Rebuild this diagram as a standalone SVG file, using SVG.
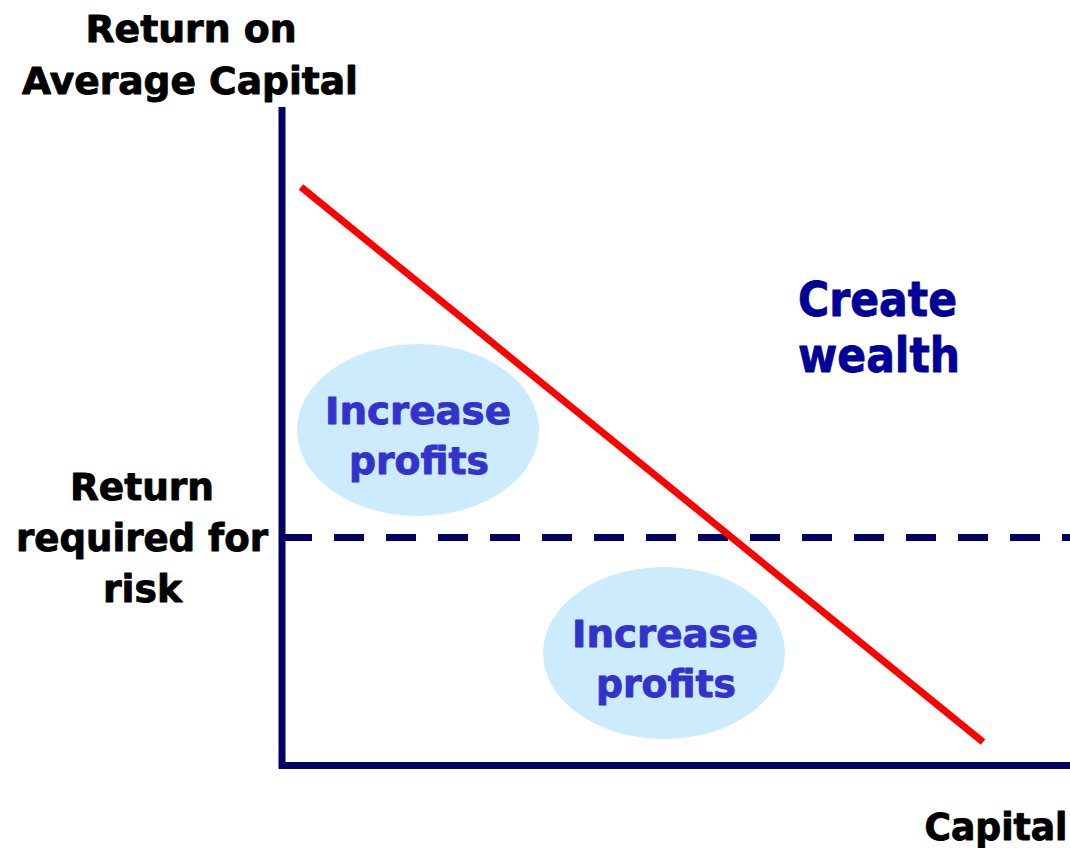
<svg xmlns="http://www.w3.org/2000/svg" width="1070" height="848" viewBox="0 0 1070 848">
  <style>
    .lbl { font-family: "DejaVu Sans", Verdana, sans-serif; font-weight: bold; text-anchor: middle; stroke-width: 0.9; stroke-linejoin: round; }
    .axis-lbl { fill: #000000; stroke: #000000; font-size: 37px; }
    .zone-lbl { fill: #000099; stroke: #000099; font-size: 48px; }
    .bubble-lbl { fill: #3333CC; stroke: #3333CC; font-size: 37px; }
    .bubble { fill: #CCEBFC; }
    .axis { stroke: #000066; stroke-width: 7; fill: none; }
  </style>
  <rect width="1070" height="848" fill="#FFFFFF"/>

  <!-- shaded regions -->
  <g id="bubble-upper">
    <ellipse class="bubble" cx="418" cy="430" rx="121" ry="86"/>
    <text class="lbl bubble-lbl" x="418" y="424" textLength="186" lengthAdjust="spacingAndGlyphs">Increase</text>
    <text class="lbl bubble-lbl" x="419" y="474" textLength="140" lengthAdjust="spacingAndGlyphs">profits</text>
  </g>
  <g id="bubble-lower">
    <ellipse class="bubble" cx="664" cy="653" rx="121" ry="86"/>
    <text class="lbl bubble-lbl" x="665" y="647" textLength="186" lengthAdjust="spacingAndGlyphs">Increase</text>
    <text class="lbl bubble-lbl" x="666" y="697" textLength="140" lengthAdjust="spacingAndGlyphs">profits</text>
  </g>

  <!-- axes, threshold and trend line -->
  <g id="connectors">
    <line class="axis" x1="282" y1="107" x2="282" y2="769"/>
    <line class="axis" x1="279" y1="765.5" x2="1070" y2="765.5"/>
    <line x1="282" y1="537.5" x2="1070" y2="537.5" stroke="#000066" stroke-width="7" stroke-dasharray="30 22"/>
    <line x1="301" y1="187" x2="983" y2="742" stroke="#FF0000" stroke-width="7"/>
  </g>

  <g id="y-axis-title">
    <text class="lbl axis-lbl" x="191" y="42" textLength="211" lengthAdjust="spacingAndGlyphs">Return on</text>
    <text class="lbl axis-lbl" x="190" y="94" textLength="336" lengthAdjust="spacingAndGlyphs">Average Capital</text>
  </g>
  <g id="threshold-label">
    <text class="lbl axis-lbl" x="142" y="500" textLength="144" lengthAdjust="spacingAndGlyphs">Return</text>
    <text class="lbl axis-lbl" x="142" y="551" textLength="252" lengthAdjust="spacingAndGlyphs">required for</text>
    <text class="lbl axis-lbl" x="142.5" y="602" textLength="79" lengthAdjust="spacingAndGlyphs">risk</text>
  </g>
  <g id="x-axis-title">
    <text class="lbl axis-lbl" x="996" y="840" textLength="143" lengthAdjust="spacingAndGlyphs">Capital</text>
  </g>
  <g id="zone-wealth">
    <text class="lbl zone-lbl" x="877.5" y="316" textLength="159" lengthAdjust="spacingAndGlyphs">Create</text>
    <text class="lbl zone-lbl" x="879" y="372" textLength="162" lengthAdjust="spacingAndGlyphs">wealth</text>
  </g>
</svg>
